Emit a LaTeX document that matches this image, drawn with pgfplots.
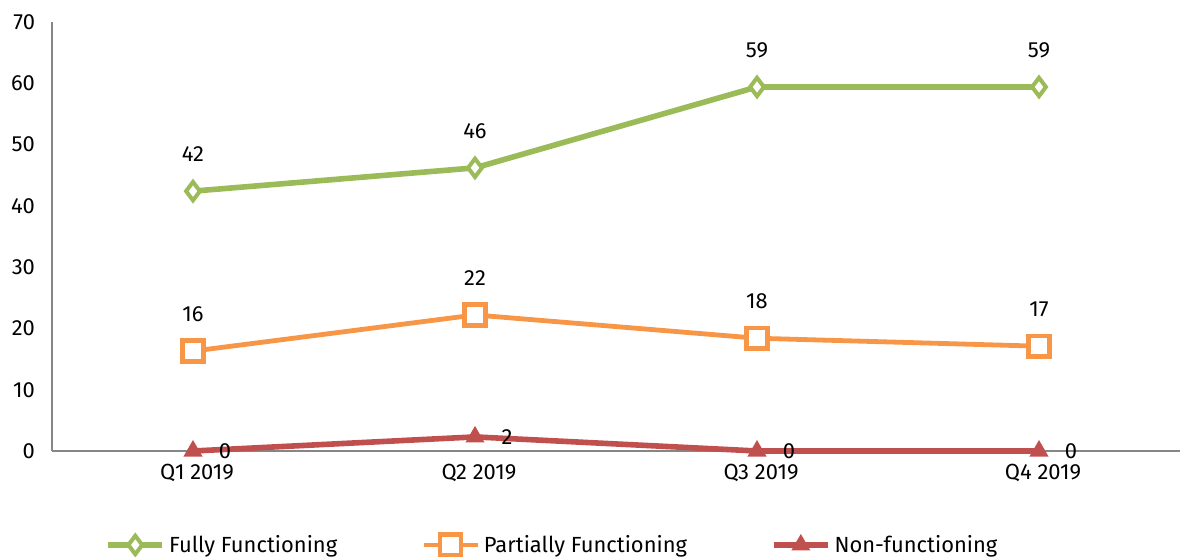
\documentclass[border=0pt]{standalone}
\usepackage{pgfplots}
\pgfplotsset{compat=1.18}
\usepackage{fontspec}
\setmainfont{Fira Sans}
\definecolor{cgreen}{HTML}{9BBB59}
\definecolor{corange}{HTML}{F79646}
\definecolor{cred}{HTML}{C0504D}
\definecolor{caxis}{HTML}{868686}
\begin{document}
\begin{tikzpicture}
\begin{axis}[
  scale only axis, width=564bp, height=214.5bp,
  xmin=-0.5, xmax=3.5, ymin=0, ymax=70,
  axis x line*=bottom, axis y line*=left,
  axis line style={caxis, line width=1bp},
  xtick={0,1,2,3}, xticklabels={Q1 2019,Q2 2019,Q3 2019,Q4 2019},
  ytick={0,10,...,70},
  major tick length=0pt,
  tick label style={font=\fontsize{11}{13}\selectfont, text=black},
  /pgf/number format/assume math mode=true,
  yticklabel style={xshift=-5bp},
  xticklabel style={yshift=-3bp, xshift=2bp},
  clip=false,
  nodes near coords={\pgfmathprintnumber[fixed,precision=0]{\pgfplotspointmeta}},
  nodes near coords style={font=\fontsize{11}{13}\selectfont, text=black, anchor=center},
  legend style={at={(rel axis cs:0.4445,-0.219)}, anchor=center, draw=none, fill=none,
    legend columns=-1, font=\fontsize{11}{13}\selectfont,
    /tikz/every even column/.append style={column sep=40bp}},
  legend image code/.code={\draw[#1] (0bp,0bp) -- (27bp,0bp); \draw[#1, only marks] plot coordinates {(13.5bp,0bp)};},
]
\addplot[cgreen, line width=2.8bp, mark=diamond*, mark size=4.6bp,
  mark options={fill=white, line width=2bp},
  every node near coord/.append style={yshift=18.5bp}]
  coordinates {(0,42.4) (1,46.2) (2,59.4) (3,59.4)};
\addlegendentry{Fully Functioning}
\addplot[corange, line width=2.4bp, mark=square*, mark size=5.2bp,
  mark options={fill=white, line width=2.3bp},
  every node near coord/.append style={yshift=18.5bp}]
  coordinates {(0,16.3) (1,22.2) (2,18.4) (3,17.1)};
\addlegendentry{Partially Functioning}
\addplot[cred, line width=2.8bp, mark=triangle*, mark size=4.5bp,
  mark options={fill=cred, line width=1bp},
  every node near coord/.append style={xshift=16bp}]
  coordinates {(0,0) (1,2.3) (2,0) (3,0)};
\addlegendentry{Non-functioning}
\end{axis}
\pgfresetboundingbox
\path[use as bounding box] ([shift={(-26bp,-53bp)}]current axis.south west) rectangle ([shift={(2bp,11bp)}]current axis.north east);
\end{tikzpicture}
\end{document}
